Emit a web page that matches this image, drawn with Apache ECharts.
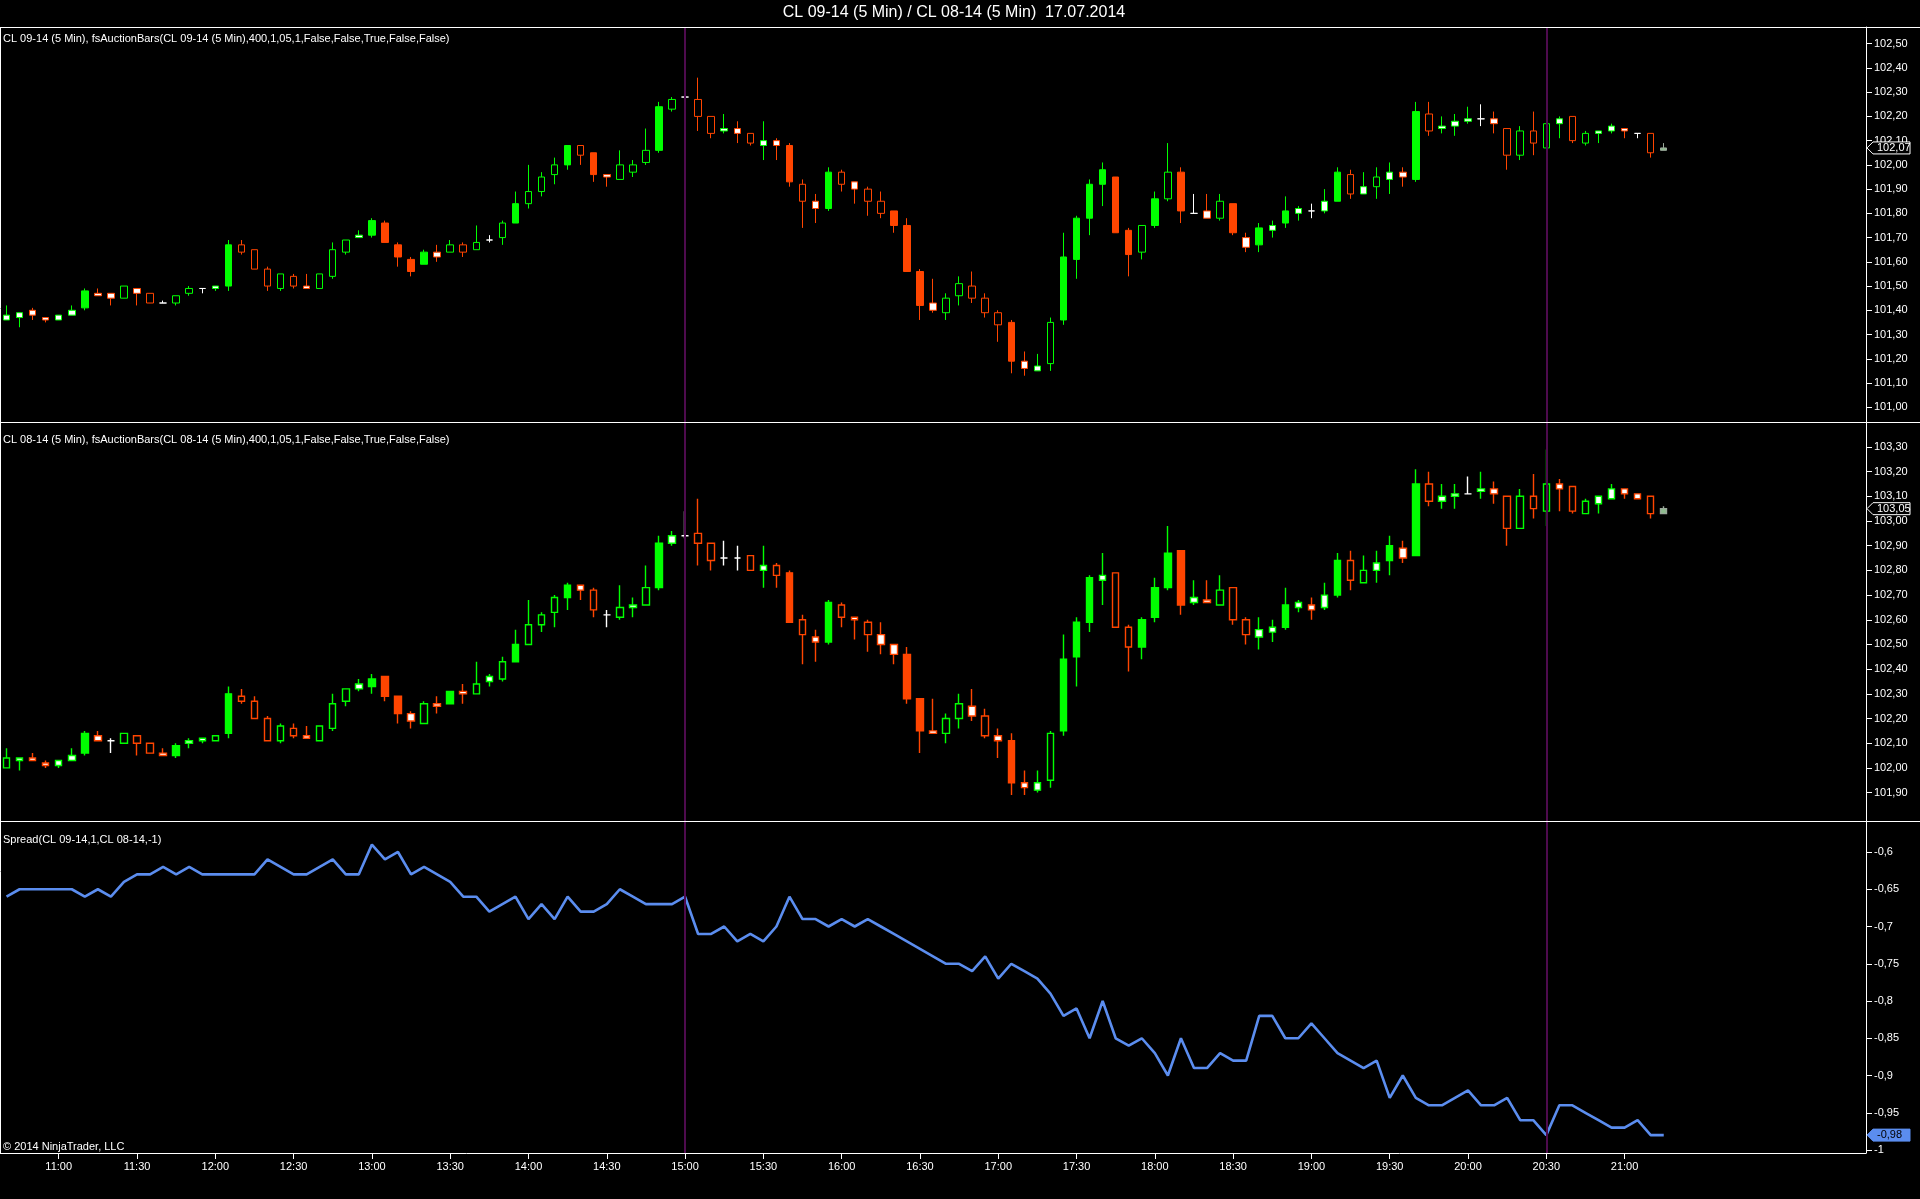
<!DOCTYPE html>
<html><head><meta charset="utf-8">
<script src="https://cdn.jsdelivr.net/npm/echarts@6.0.0/dist/echarts.min.js"></script>
<style>html,body{margin:0;padding:0;background:#000;overflow:hidden}#c{width:1920px;height:1199px}</style>
</head><body><div id="c"></div>
<script>
// ---------- DATA ----------
const startMinute = 10 * 60 + 40;   // first bar 10:40, 5-minute bars
const slotCount = 143;              // bar slots on the time axis (incl. empty right margin)
const tickLabels = ['11:00','11:30','12:00','12:30','13:00','13:30','14:00','14:30','15:00','15:30','16:00','16:30','17:00','17:30','18:00','18:30','19:00','19:30','20:00','20:30','21:00'];
const sessionLines = ['15:00', '20:30'];

const open1 = [101.36,101.37,101.40,101.37,101.36,101.38,101.41,101.47,101.47,101.45,
101.49,101.47,101.43,101.43,101.47,101.49,101.49,101.50,101.67,101.65,
101.57,101.49,101.54,101.50,101.49,101.54,101.64,101.70,101.71,101.76,
101.67,101.61,101.59,101.64,101.64,101.67,101.65,101.69,101.70,101.76,
101.84,101.89,101.96,102.00,102.08,102.05,101.96,101.94,101.97,102.01,
102.06,102.23,102.28,102.27,102.20,102.14,102.15,102.13,102.08,102.10,
102.08,101.92,101.85,101.82,101.97,101.93,101.90,101.85,101.81,101.75,
101.56,101.43,101.39,101.46,101.50,101.45,101.39,101.35,101.19,101.15,
101.18,101.36,101.61,101.78,101.92,101.95,101.73,101.64,101.75,101.86,
101.97,101.80,101.81,101.78,101.84,101.70,101.67,101.73,101.76,101.80,
101.81,101.81,101.85,101.96,101.88,101.91,101.94,101.97,101.94,102.21,
102.15,102.16,102.18,102.19,102.19,102.15,102.04,102.14,102.07,102.17,
102.20,102.09,102.13,102.14,102.15,102.13,102.13,102.06];
const high1 = [101.42,101.39,101.41,101.37,101.38,101.42,101.49,101.49,101.47,101.50,
101.49,101.47,101.44,101.46,101.50,101.49,101.50,101.69,101.69,101.65,
101.58,101.55,101.55,101.55,101.55,101.68,101.69,101.73,101.78,101.77,
101.68,101.62,101.65,101.67,101.69,101.68,101.75,101.71,101.77,101.89,
102.00,101.97,102.03,102.08,102.08,102.05,101.96,102.06,102.02,102.15,
102.26,102.28,102.38,102.36,102.20,102.21,102.18,102.13,102.18,102.11,
102.09,101.94,101.88,101.99,101.98,101.93,101.91,101.89,101.81,101.78,
101.57,101.53,101.47,101.54,101.56,101.47,101.40,101.36,101.23,101.22,
101.37,101.72,101.79,101.94,102.01,101.95,101.74,101.75,101.89,102.09,
101.99,101.88,101.88,101.88,101.84,101.72,101.76,101.77,101.87,101.83,
101.84,101.90,101.99,101.98,101.97,101.99,102.01,101.99,102.26,102.26,
102.20,102.21,102.24,102.25,102.22,102.15,102.16,102.22,102.30,102.20,
102.20,102.14,102.14,102.17,102.15,102.13,102.13,102.09];
const low1 = [101.36,101.33,101.36,101.35,101.36,101.38,101.40,101.46,101.42,101.45,
101.42,101.43,101.43,101.42,101.46,101.47,101.48,101.48,101.63,101.57,
101.48,101.48,101.49,101.49,101.49,101.53,101.63,101.70,101.70,101.68,
101.58,101.54,101.59,101.60,101.64,101.62,101.65,101.68,101.67,101.76,
101.82,101.87,101.92,101.98,102.00,101.93,101.91,101.94,101.95,102.00,
102.05,102.22,102.26,102.14,102.11,102.13,102.09,102.08,102.02,102.02,
101.91,101.74,101.76,101.81,101.89,101.84,101.79,101.78,101.72,101.56,
101.36,101.39,101.36,101.42,101.43,101.37,101.27,101.14,101.13,101.15,
101.15,101.34,101.53,101.71,101.83,101.72,101.54,101.61,101.74,101.85,
101.76,101.80,101.78,101.77,101.71,101.64,101.64,101.70,101.74,101.77,
101.78,101.80,101.85,101.86,101.88,101.86,101.88,101.91,101.93,102.12,
102.13,102.12,102.17,102.16,102.13,101.98,102.02,102.04,102.01,102.11,
102.09,102.08,102.09,102.13,102.11,102.11,102.03,102.06];
const close1 = [101.38,101.39,101.38,101.36,101.38,101.40,101.48,101.46,101.45,101.50,
101.47,101.43,101.43,101.46,101.49,101.49,101.50,101.67,101.64,101.57,
101.50,101.55,101.50,101.49,101.55,101.65,101.69,101.71,101.77,101.68,
101.62,101.56,101.64,101.62,101.67,101.64,101.68,101.69,101.76,101.84,
101.89,101.95,102.00,102.08,102.04,101.96,101.95,102.00,102.00,102.06,
102.24,102.27,102.28,102.20,102.13,102.15,102.13,102.09,102.10,102.08,
101.93,101.85,101.82,101.97,101.92,101.90,101.85,101.80,101.75,101.56,
101.42,101.40,101.45,101.51,101.45,101.39,101.34,101.19,101.16,101.17,
101.35,101.62,101.78,101.92,101.98,101.72,101.63,101.75,101.86,101.97,
101.81,101.80,101.78,101.85,101.72,101.66,101.74,101.75,101.81,101.82,
101.81,101.85,101.97,101.88,101.91,101.95,101.97,101.95,102.22,102.14,
102.16,102.18,102.19,102.19,102.17,102.04,102.14,102.09,102.17,102.19,
102.10,102.13,102.14,102.16,102.14,102.13,102.05,102.07];
// auction-bar body kind: F filled, H hollow, W white body, D doji, G live bar
const kind1 = ('WWWWWWFWWH'+'WHDHHDWFHH'+'HHHWHHHWFF'+'FFFWHHHDHF'+'HHHFHFWHHH'+'FHDHHWWHWW'+
  'FHWFHWHHFF'+'FWHHHHHFWW'+'HFFFFFFHFH'+'FDWHFWFWFW'+'DWFHWHWWFH'+'WWWDWHHHHW'+'HHWWWDHG').split('');

const open2 = [102.00,102.03,102.04,102.02,102.01,102.03,102.06,102.13,102.11,102.10,
102.13,102.10,102.06,102.05,102.10,102.11,102.11,102.14,102.29,102.27,
102.20,102.11,102.16,102.13,102.11,102.16,102.27,102.32,102.33,102.37,
102.29,102.22,102.18,102.26,102.26,102.31,102.30,102.35,102.36,102.43,
102.50,102.58,102.63,102.69,102.74,102.72,102.62,102.61,102.65,102.66,
102.73,102.91,102.94,102.95,102.91,102.85,102.85,102.86,102.80,102.82,
102.79,102.60,102.53,102.51,102.66,102.61,102.59,102.54,102.50,102.46,
102.28,102.15,102.14,102.20,102.25,102.21,102.13,102.11,101.94,101.91,
101.95,102.15,102.45,102.59,102.76,102.79,102.57,102.49,102.61,102.73,
102.88,102.67,102.68,102.66,102.73,102.60,102.53,102.55,102.57,102.65,
102.66,102.65,102.70,102.84,102.75,102.80,102.84,102.89,102.86,103.15,
103.08,103.10,103.11,103.12,103.13,103.10,102.97,103.10,103.04,103.15,
103.14,103.03,103.07,103.09,103.13,103.11,103.10,103.03];
const high2 = [102.08,102.04,102.06,102.03,102.03,102.08,102.15,102.15,102.12,102.14,
102.13,102.10,102.08,102.10,102.12,102.12,102.13,102.33,102.32,102.29,
102.21,102.18,102.18,102.17,102.17,102.30,102.32,102.36,102.38,102.37,
102.29,102.23,102.27,102.29,102.31,102.34,102.43,102.38,102.45,102.56,
102.68,102.63,102.70,102.75,102.74,102.73,102.64,102.74,102.69,102.82,
102.94,102.96,103.04,103.09,102.91,102.92,102.90,102.86,102.90,102.83,
102.80,102.62,102.56,102.68,102.67,102.61,102.60,102.59,102.50,102.49,
102.28,102.28,102.22,102.30,102.32,102.24,102.16,102.14,101.99,101.99,
102.15,102.54,102.61,102.78,102.87,102.79,102.58,102.61,102.77,102.98,
102.88,102.76,102.76,102.78,102.73,102.61,102.61,102.60,102.73,102.68,
102.69,102.75,102.87,102.88,102.86,102.88,102.94,102.92,103.21,103.20,
103.15,103.15,103.18,103.20,103.16,103.10,103.13,103.19,103.29,103.17,
103.14,103.09,103.10,103.15,103.13,103.11,103.10,103.06];
const low2 = [102.00,101.99,102.03,102.00,102.00,102.03,102.05,102.11,102.06,102.10,
102.05,102.06,102.05,102.04,102.08,102.10,102.11,102.12,102.26,102.20,
102.11,102.10,102.12,102.12,102.11,102.15,102.25,102.31,102.30,102.27,
102.18,102.16,102.18,102.22,102.26,102.26,102.30,102.33,102.35,102.43,
102.50,102.55,102.57,102.64,102.68,102.61,102.57,102.60,102.61,102.66,
102.72,102.90,102.93,102.82,102.80,102.82,102.80,102.80,102.73,102.73,
102.59,102.42,102.43,102.50,102.57,102.52,102.47,102.46,102.42,102.26,
102.06,102.14,102.10,102.16,102.19,102.12,102.04,101.89,101.89,101.90,
101.92,102.13,102.33,102.55,102.66,102.57,102.39,102.44,102.59,102.72,
102.62,102.66,102.67,102.66,102.58,102.50,102.48,102.51,102.56,102.63,
102.60,102.64,102.69,102.72,102.75,102.75,102.78,102.83,102.86,103.06,
103.05,103.05,103.11,103.09,103.07,102.90,102.97,103.01,102.98,103.04,
103.03,103.03,103.03,103.09,103.09,103.09,103.01,103.03];
const close2 = [102.04,102.04,102.03,102.01,102.03,102.05,102.14,102.11,102.11,102.14,
102.10,102.06,102.05,102.09,102.11,102.12,102.13,102.30,102.27,102.20,
102.11,102.17,102.13,102.12,102.17,102.26,102.32,102.34,102.36,102.29,
102.22,102.19,102.26,102.25,102.31,102.30,102.34,102.37,102.43,102.50,
102.58,102.62,102.69,102.74,102.72,102.64,102.62,102.65,102.66,102.73,
102.91,102.94,102.94,102.91,102.84,102.85,102.85,102.80,102.82,102.78,
102.59,102.54,102.51,102.67,102.61,102.60,102.54,102.50,102.46,102.28,
102.15,102.14,102.20,102.26,102.21,102.13,102.11,101.94,101.92,101.94,
102.14,102.44,102.59,102.77,102.78,102.57,102.49,102.60,102.73,102.87,
102.66,102.69,102.67,102.72,102.60,102.54,102.56,102.57,102.66,102.67,
102.64,102.70,102.84,102.76,102.80,102.83,102.90,102.85,103.15,103.08,
103.10,103.11,103.11,103.13,103.11,102.97,103.10,103.05,103.15,103.13,
103.04,103.08,103.10,103.13,103.11,103.09,103.03,103.05];
const kind2 = ('HWWWWWFWDH'+'HHWFWWHFHH'+'HHHWHHHWFF'+'FWHWFWHWHF'+'HHHFWHDHWH'+'FWDHHDDHWH'+
  'FHWFHWHWWF'+'FWHHWHWFWW'+'HFFFWHHFFF'+'FWWHHHWWFW'+'WWFHHWFWFH'+'WWDWWHHHHW'+'HHWWWWHG').split('');

const spread = [-0.66,-0.65,-0.65,-0.65,-0.65,-0.65,-0.66,-0.65,-0.66,-0.64,
-0.63,-0.63,-0.62,-0.63,-0.62,-0.63,-0.63,-0.63,-0.63,-0.63,
-0.61,-0.62,-0.63,-0.63,-0.62,-0.61,-0.63,-0.63,-0.59,-0.61,
-0.60,-0.63,-0.62,-0.63,-0.64,-0.66,-0.66,-0.68,-0.67,-0.66,
-0.69,-0.67,-0.69,-0.66,-0.68,-0.68,-0.67,-0.65,-0.66,-0.67,
-0.67,-0.67,-0.66,-0.71,-0.71,-0.70,-0.72,-0.71,-0.72,-0.70,
-0.66,-0.69,-0.69,-0.70,-0.69,-0.70,-0.69,-0.70,-0.71,-0.72,
-0.73,-0.74,-0.75,-0.75,-0.76,-0.74,-0.77,-0.75,-0.76,-0.77,
-0.79,-0.82,-0.81,-0.85,-0.80,-0.85,-0.86,-0.85,-0.87,-0.90,
-0.85,-0.89,-0.89,-0.87,-0.88,-0.88,-0.82,-0.82,-0.85,-0.85,
-0.83,-0.85,-0.87,-0.88,-0.89,-0.88,-0.93,-0.90,-0.93,-0.94,
-0.94,-0.93,-0.92,-0.94,-0.94,-0.93,-0.96,-0.96,-0.98,-0.94,
-0.94,-0.95,-0.96,-0.97,-0.97,-0.96,-0.98,-0.98];

const ticks1 = [101.0,101.1,101.2,101.3,101.4,101.5,101.6,101.7,101.8,101.9,102.0,102.1,102.2,102.3,102.4,102.5];
const ticks2 = [101.9,102.0,102.1,102.2,102.3,102.4,102.5,102.6,102.7,102.8,102.9,103.0,103.1,103.2,103.3];
const ticks3 = [-1,-0.95,-0.9,-0.85,-0.8,-0.75,-0.7,-0.65,-0.6];

const titleText = 'CL 09-14 (5 Min) / CL 08-14 (5 Min)  17.07.2014';
const label1 = 'CL 09-14 (5 Min), fsAuctionBars(CL 09-14 (5 Min),400,1,05,1,False,False,True,False,False)';
const label2 = 'CL 08-14 (5 Min), fsAuctionBars(CL 08-14 (5 Min),400,1,05,1,False,False,True,False,False)';
const label3 = 'Spread(CL 09-14,1,CL 08-14,-1)';
const copyright = '\u00a9 2014 NinjaTrader, LLC';

// ---------- BUILD ----------
const pad = n => (n < 10 ? '0' : '') + n;
const categories = [];
for (let k = 0; k < slotCount; k++) {
  const t = startMinute + 5 * k;
  categories.push(pad(Math.floor(t / 60)) + ':' + pad(t % 60));
}
const UP = '#00ff00', DN = '#ff4500', DOJI = '#ffffff', LIVE = '#8fbc8f';
function candleData(o, h, l, c, k) {
  return o.map((ov, i) => {
    const dir = c[i] > ov ? UP : (c[i] < ov ? DN : DOJI);
    let fill = dir, border = dir;
    if (k[i] === 'H') fill = '#000000';
    else if (k[i] === 'W') fill = '#ffffff';
    else if (k[i] === 'D') { fill = DOJI; border = DOJI; }
    else if (k[i] === 'G') { fill = LIVE; border = '#9aa89a'; }
    return { value: [ov, c[i], l[i], h[i]],
      itemStyle: { color: fill, color0: fill, borderColor: border, borderColor0: border, borderColorDoji: border } };
  });
}
const FONT = 'Liberation Sans, Arial, sans-serif';
const fmt2 = v => Number(v).toFixed(2).replace('.', ',');
const fmt3 = v => String(+Number(v).toFixed(2)).replace('.', ',');

const RIGHT = 54;
const grids = [
  { left: 0, right: RIGHT, top: 27, height: 395 },
  { left: 0, right: RIGHT, top: 422, height: 399 },
  { left: 0, right: RIGHT, top: 821, height: 332 }
];
function xAx(i, showLabels) {
  return {
    type: 'category', gridIndex: i, data: categories, boundaryGap: true,
    axisLine: { show: showLabels, lineStyle: { color: '#ffffff', width: 1 } },
    axisTick: { show: showLabels, alignWithLabel: true, length: 6, lineStyle: { color: '#ffffff' },
      interval: (idx, val) => tickLabels.indexOf(categories[idx]) >= 0 },
    axisLabel: { show: showLabels, color: '#ffffff', fontSize: 11, fontFamily: FONT, margin: 8,
      interval: (idx, val) => tickLabels.indexOf(categories[idx]) >= 0 },
    splitLine: { show: false }
  };
}
function yAx(i, min, max, ticks, f) {
  return {
    type: 'value', gridIndex: i, position: 'right', min: min, max: max, scale: true,
    axisLine: { show: true, lineStyle: { color: '#ffffff', width: 1 } },
    axisTick: { show: true, length: 6, lineStyle: { color: '#ffffff' }, customValues: ticks },
    axisLabel: { show: true, color: '#ffffff', fontSize: 11, fontFamily: FONT, margin: 8, customValues: ticks, formatter: f },
    splitLine: { show: false }
  };
}
const vLines = {
  silent: true, symbol: ['none', 'none'], label: { show: false },
  lineStyle: { color: '#4e0b4e', width: 2, type: 'solid' },
  data: sessionLines.map(s => ({ xAxis: s }))
};

const chart = echarts.init(document.getElementById('c'), null, { renderer: 'canvas', width: 1920, height: 1199 });
chart.setOption({
  backgroundColor: '#000000',
  animation: false,
  grid: grids,
  xAxis: [xAx(0, false), xAx(1, false), xAx(2, true)],
  yAxis: [
    yAx(0, 100.939, 102.569, ticks1, fmt2),
    yAx(1, 101.785, 103.401, ticks2, fmt2),
    yAx(2, -1.004, -0.5584, ticks3, fmt3)
  ],
  series: [
    { type: 'candlestick', xAxisIndex: 0, yAxisIndex: 0, barWidth: 7, clip: false,
      itemStyle: { borderWidth: 1 }, data: candleData(open1, high1, low1, close1, kind1), markLine: vLines },
    { type: 'candlestick', xAxisIndex: 1, yAxisIndex: 1, barWidth: 7, clip: false,
      itemStyle: { borderWidth: 1.4 }, data: candleData(open2, high2, low2, close2, kind2), markLine: vLines },
    { type: 'line', xAxisIndex: 2, yAxisIndex: 2, data: spread, symbol: 'none', clip: false,
      lineStyle: { color: '#5b8def', width: 2.6 }, markLine: vLines }
  ]
});

// price tags at last values, positioned through the axes' scales
function tag(yIdx, value, text, fill, stroke, textColor) {
  const y = chart.convertToPixel({ yAxisIndex: yIdx }, value);
  const x0 = 1867, x1 = 1910, h = 6;
  return [
    { type: 'polygon', z: 100, shape: { points: [[x0, y], [x0 + 6, y - h], [x1, y - h], [x1, y + h], [x0 + 6, y + h]] },
      style: { fill: fill, stroke: stroke, lineWidth: 1 } },
    { type: 'text', z: 101, style: { text: text, x: x0 + 10, y: y, fill: textColor, font: '11px ' + FONT,
      align: 'left', verticalAlign: 'middle', textAlign: 'left', textVerticalAlign: 'middle' } }
  ];
}
function txt(t, x, y, size, align) {
  return { type: 'text', z: 100, style: { text: t, x: x, y: y, fill: '#ffffff', font: size + 'px ' + FONT,
    align: align, verticalAlign: 'middle', textAlign: align, textVerticalAlign: 'middle' } };
}
function hline(y, x0, x1) {
  return { type: 'line', z: 90, shape: { x1: x0, y1: y, x2: x1, y2: y }, style: { stroke: '#ffffff', lineWidth: 1 } };
}
const last1 = close1[close1.length - 1], last2 = close2[close2.length - 1], last3 = spread[spread.length - 1];
const graphics = [
  txt(titleText, 954, 13, 16, 'center'),
  txt(label1, 3, 39, 11, 'left'),
  txt(label2, 3, 440, 11, 'left'),
  txt(label3, 3, 840, 11, 'left'),
  txt(copyright, 3, 1147, 11, 'left'),
  hline(27.5, 0, 1920), hline(422.5, 0, 1920), hline(821.5, 0, 1920),
  { type: 'line', z: 90, shape: { x1: 0.5, y1: 27, x2: 0.5, y2: 1153 }, style: { stroke: '#ffffff', lineWidth: 1 } }
].concat(
  tag(0, last1, fmt2(last1), '#000000', '#ffffff', '#ffffff'),
  tag(1, last2, fmt2(last2), '#000000', '#ffffff', '#ffffff'),
  tag(2, last3, fmt3(last3), '#5b8def', '#5b8def', '#000000')
);
chart.setOption({ graphic: graphics });
</script>
</body></html>
